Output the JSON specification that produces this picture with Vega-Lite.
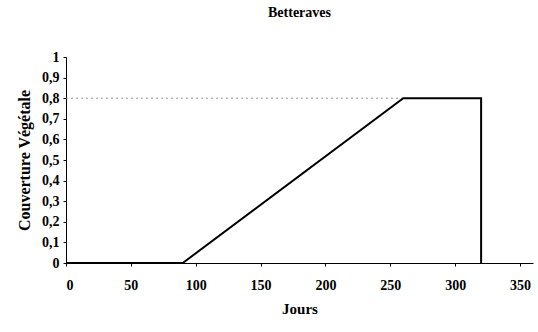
{
  "$schema": "https://vega.github.io/schema/vega-lite/v6.json",
  "width": 467,
  "height": 206,
  "autosize": "none",
  "padding": {"left": 66, "top": 57, "right": 5, "bottom": 69},
  "background": "white",
  "title": {
    "text": "Betteraves",
    "font": "Liberation Serif",
    "fontSize": 14,
    "fontWeight": "bold",
    "color": "black",
    "anchor": "middle",
    "offset": 30
  },
  "datasets": {
    "courbe": [
      {"jours": 0, "couverture": 0},
      {"jours": 90, "couverture": 0},
      {"jours": 260, "couverture": 0.8},
      {"jours": 320, "couverture": 0.8},
      {"jours": 320, "couverture": 0}
    ],
    "ref": [
      {"jours": 0, "couverture": 0.8},
      {"jours": 260, "couverture": 0.8}
    ]
  },
  "config": {
    "view": {"stroke": null},
    "axis": {
      "grid": false,
      "domainColor": "black",
      "domainWidth": 1,
      "tickColor": "black",
      "tickSize": 3,
      "labelOverlap": false,
      "labelFont": "Liberation Serif",
      "labelFontWeight": "bold",
      "labelFontSize": 14,
      "labelColor": "black",
      "titleFont": "Liberation Serif",
      "titleFontWeight": "bold",
      "titleFontSize": 15,
      "titleColor": "black"
    }
  },
  "encoding": {
    "x": {
      "field": "jours",
      "type": "quantitative",
      "scale": {"domain": [0, 360], "nice": false},
      "axis": {
        "title": "Jours",
        "values": [0, 50, 100, 150, 200, 250, 300, 350],
        "labelPadding": 12,
        "titlePadding": 9
      }
    },
    "y": {
      "field": "couverture",
      "type": "quantitative",
      "scale": {"domain": [0, 1], "nice": false},
      "axis": {
        "title": "Couverture Végétale",
        "titleFontSize": 16,
        "values": [0, 0.1, 0.2, 0.3, 0.4, 0.5, 0.6, 0.7, 0.8, 0.9, 1],
        "format": ".1~f",
        "labelExpr": "replace(datum.label, '.', ',')",
        "labelPadding": 4,
        "titlePadding": 9
      }
    }
  },
  "layer": [
    {
      "data": {"name": "ref"},
      "mark": {"type": "line", "color": "#999999", "strokeWidth": 1, "strokeDash": [2, 3]}
    },
    {
      "data": {"name": "courbe"},
      "mark": {"type": "line", "color": "black", "strokeWidth": 2}
    }
  ]
}
